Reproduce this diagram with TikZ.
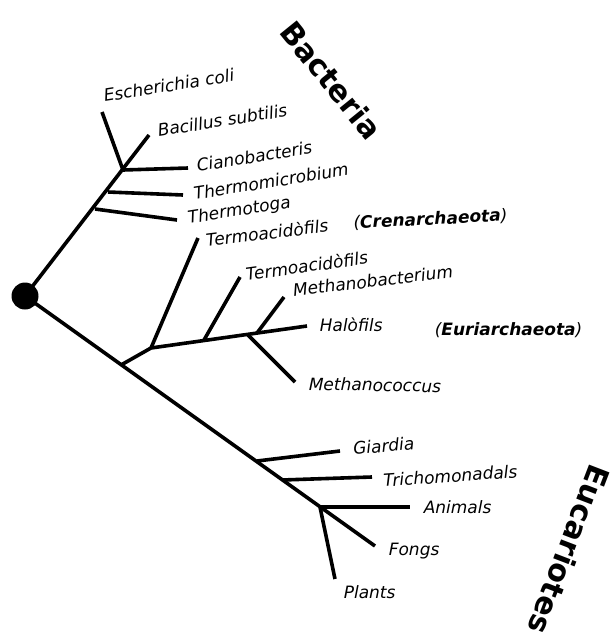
\documentclass[tikz,border=0pt]{standalone}
\usepackage{fontspec}
\setmainfont{DejaVu Sans}
\begin{document}
\begin{tikzpicture}[
    x=1pt, y=-1pt,
    line width=3.6pt,
    taxon/.style={anchor=base west, inner sep=0pt, font=\fontsize{17}{20}\selectfont\itshape},
    kingdom/.style={anchor=west, inner sep=0pt, font=\fontsize{30}{36}\selectfont\bfseries}
]
  \clip (0,0) rectangle (610,633);

  % branch points
  \coordinate (R)   at (25,296);
  \coordinate (btg) at (95,209);
  \coordinate (btm) at (108,192);
  \coordinate (bec) at (123,170);
  \coordinate (ar)  at (121,365);
  \coordinate (A)   at (151,348);
  \coordinate (at2) at (204,340);
  \coordinate (amc) at (248,335);
  \coordinate (amb) at (257,333);
  \coordinate (egi) at (257,461);
  \coordinate (etr) at (282,480);
  \coordinate (ean) at (320,507);

  % tips
  \coordinate (ec) at (102,112);
  \coordinate (bs) at (149,135);
  \coordinate (cb) at (188,168);
  \coordinate (tm) at (183,195);
  \coordinate (tg) at (177,220);
  \coordinate (t1) at (198,238);
  \coordinate (t2) at (240,277);
  \coordinate (mb) at (284,297);
  \coordinate (hf) at (307,326);
  \coordinate (mc) at (295,382);
  \coordinate (gi) at (340,451);
  \coordinate (tr) at (372,477);
  \coordinate (an) at (410,507);
  \coordinate (fo) at (375,546);
  \coordinate (pl) at (335,579);

  % edges
  \draw (R) -- (bs);
  \draw (bec) -- (ec);
  \draw (bec) -- (cb);
  \draw (btm) -- (tm);
  \draw (btg) -- (tg);
  \draw (R) -- (fo);
  \draw (ar) -- (A) -- (hf);
  \draw (A) -- (t1);
  \draw (at2) -- (t2);
  \draw (amb) -- (mb);
  \draw (amc) -- (mc);
  \draw (egi) -- (gi);
  \draw (etr) -- (tr);
  \draw (ean) -- (an);
  \draw (ean) -- (pl);
  \fill (R) circle (13.5);

  % labels
  \node[taxon, rotate=9] (Lec) at (103,102) {Escherichia coli};
  \node[taxon, rotate=9] (Lbs) at (157,137) {Bacillus subtilis};
  \node[taxon, rotate=9] (Lcb) at (196,172) {Cianobacteris};
  \node[taxon, rotate=9] (Ltm) at (193,200) {Thermomicrobium};
  \node[taxon, rotate=9] (Ltg) at (187,224) {Thermotoga};
  \node[taxon, rotate=7] (Lt1) at (205,247) {Termoacidòfils};
  \node[taxon, rotate=3] (Lcr) at (352,229) {(\textbf{Crenarchaeota})};
  \node[taxon, rotate=8] (Lt2) at (245,281) {Termoacidòfils};
  \node[taxon, rotate=7] (Lmb) at (292,297) {Methanobacterium};
  \node[taxon, rotate=1] (Lhf) at (318,332) {Halòfils};
  \node[taxon]           (Leu) at (433,335) {(\textbf{Euriarchaeota})};
  \node[taxon, rotate=-1] (Lmc) at (307,390) {Methanococcus};
  \node[taxon, rotate=5] (Lgi) at (352,455) {Giardia};
  \node[taxon, rotate=4] (Ltr) at (382,487) {Trichomonadals};
  \node[taxon]           (Lan) at (422,513) {Animals};
  \node[taxon]           (Lfo) at (387,555) {Fongs};
  \node[taxon]           (Lpl) at (342,598) {Plants};

  \node[kingdom, rotate=-51]  (Bac) at (286,24)  {Bacteria};
  \node[kingdom, rotate=-111] (Euc) at (602,465) {Eucariotes};
\end{tikzpicture}
\end{document}
